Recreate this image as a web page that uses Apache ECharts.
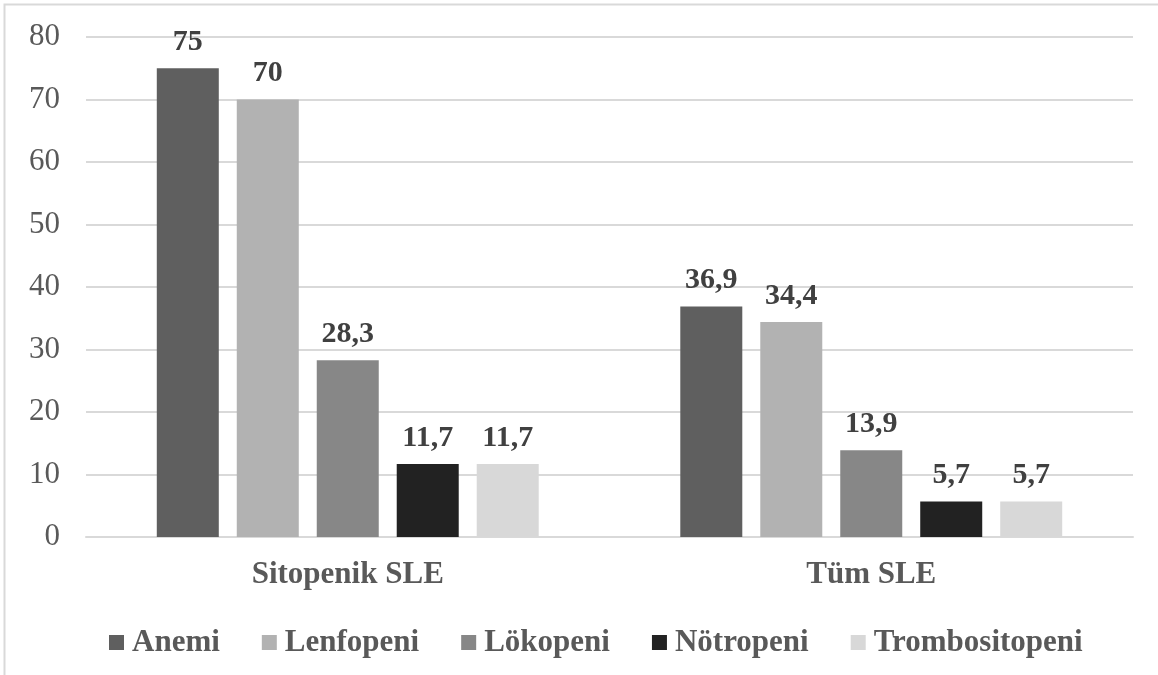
<!DOCTYPE html>
<html>
<head>
<meta charset="utf-8">
<script src="https://cdn.jsdelivr.net/npm/echarts@6/dist/echarts.min.js"></script>
<style>
  html, body { margin: 0; padding: 0; background: #ffffff; }
  #chart { width: 1158px; height: 675px; }
</style>
</head>
<body>
<div id="chart"></div>
<script>
// Cytopenia frequencies (%) in cytopenic SLE vs. all SLE patients
const categories = ['Sitopenik SLE', 'Tüm SLE'];
const seriesNames = ['Anemi', 'Lenfopeni', 'Lökopeni', 'Nötropeni', 'Trombositopeni'];
const anemi = [75, 36.9];
const lenfopeni = [70, 34.4];
const lokopeni = [28.3, 13.9];
const notropeni = [11.7, 5.7];
const trombositopeni = [11.7, 5.7];
const seriesValues = [anemi, lenfopeni, lokopeni, notropeni, trombositopeni];
const seriesColors = ['#5f5f5f', '#b2b2b2', '#878787', '#222222', '#d8d8d8'];

const font = '"Liberation Serif", "Times New Roman", serif';

const chart = echarts.init(document.getElementById('chart'), null, { renderer: 'canvas' });

chart.setOption({
  animation: false,
  backgroundColor: '#ffffff',
  graphic: [{
    type: 'rect',
    shape: { x: 4.5, y: 4.5, width: 1200, height: 700 },
    style: { fill: 'none', stroke: '#d9d9d9', lineWidth: 2 },
    silent: true
  }],
  grid: { left: 86, right: 25, top: 37, bottom: 138 },
  legend: {
    top: 622,
    left: 104,
    itemWidth: 15,
    itemHeight: 15,
    itemGap: 42,
    icon: 'rect',
    textStyle: { fontFamily: font, fontSize: 31, fontWeight: 'bold', color: '#595959', padding: [0, 0, 0, 3] },
    data: seriesNames
  },
  xAxis: {
    type: 'category',
    data: categories,
    axisLine: { show: true, lineStyle: { color: '#d9d9d9', width: 2 } },
    axisTick: { show: false },
    axisLabel: { fontFamily: font, fontSize: 31, fontWeight: 'bold', color: '#595959', margin: 22 }
  },
  yAxis: {
    type: 'value',
    min: 0,
    max: 80,
    interval: 10,
    axisLine: { show: false },
    axisTick: { show: false },
    axisLabel: { fontFamily: font, fontSize: 31, color: '#595959', margin: 26 },
    splitLine: { lineStyle: { color: '#d9d9d9', width: 2 } }
  },
  series: seriesNames.map((name, i) => ({
    name: name,
    type: 'bar',
    data: seriesValues[i],
    barWidth: 62,
    barGap: '29%',
    itemStyle: { color: seriesColors[i] },
    label: {
      show: true,
      position: 'top',
      distance: 11,
      fontFamily: font,
      fontSize: 30,
      fontWeight: 'bold',
      color: '#404040',
      formatter: p => String(p.value).replace('.', ',')
    }
  }))
});
</script>
</body>
</html>
